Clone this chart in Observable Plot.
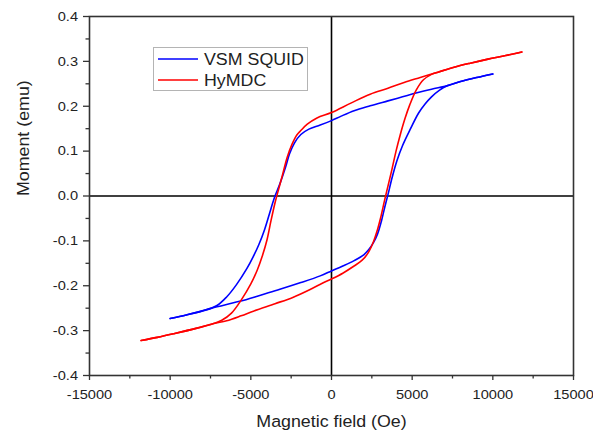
<!DOCTYPE html>
<html>
<head>
<meta charset="utf-8">
<script src="https://cdn.jsdelivr.net/npm/d3@7"></script>
<script src="https://cdn.jsdelivr.net/npm/@observablehq/plot@0.6"></script>
<style>
  html, body { margin: 0; padding: 0; background: #fff; }
  #wrap { position: relative; width: 593px; height: 436px; font-family: "Liberation Sans", Arial, sans-serif; }
  #legend { position: absolute; left: 153px; top: 47px; width: 153px; height: 42px; border: 1px solid #b4b4b4; background: #fff; }
</style>
</head>
<body>
<div id="wrap"><div id="chart"></div><div id="legend"></div></div>
<script>
// ---- data ----
const seriesNames = ["VSM SQUID", "HyMDC"];

// VSM SQUID, field sweeping down (+10000 -> -10000)
const vsmDown = [
  [10000,0.272],[9000,0.264],[8000,0.255],[7200,0.246],[6200,0.238],[5300,0.230],[4400,0.221],
  [3500,0.212],[2400,0.201],[1400,0.190],[600,0.178],[0,0.168],[-700,0.158],[-1400,0.149],
  [-1900,0.137],[-2300,0.118],[-2600,0.094],[-2850,0.064],[-3200,0.027],[-3550,-0.005],
  [-3850,-0.040],[-4150,-0.075],[-4500,-0.108],[-4850,-0.135],[-5250,-0.162],[-5900,-0.198],
  [-6500,-0.225],[-7100,-0.244],[-8000,-0.256],[-9000,-0.265],[-10000,-0.273]
];
// VSM SQUID, field sweeping up (-10000 -> +10000)
const vsmUp = [
  [-10000,-0.273],[-9000,-0.265],[-8000,-0.256],[-7100,-0.247],[-6200,-0.239],[-5300,-0.231],
  [-4400,-0.221],[-3200,-0.208],[-1900,-0.193],[-700,-0.178],[0,-0.167],[700,-0.156],[1400,-0.144],
  [2000,-0.131],[2300,-0.120],[2600,-0.104],[2850,-0.085],[3100,-0.055],[3300,-0.025],[3500,0.003],
  [3750,0.040],[4050,0.078],[4400,0.112],[4900,0.150],[5400,0.185],[5800,0.205],[6200,0.221],
  [6700,0.236],[7200,0.246],[8000,0.255],[9000,0.264],[10000,0.272]
];
// HyMDC, field sweeping down (+11800 -> -11800)
const hyDown = [
  [11800,0.321],[10800,0.313],[9700,0.305],[8600,0.296],[7600,0.287],[6600,0.276],[5500,0.264],
  [4500,0.253],[3500,0.240],[2400,0.227],[1200,0.207],[0,0.186],[-900,0.174],[-1500,0.160],
  [-1900,0.146],[-2150,0.136],[-2450,0.115],[-2750,0.086],[-3050,0.045],[-3300,0.012],
  [-3500,-0.015],[-3750,-0.055],[-4000,-0.098],[-4300,-0.135],[-4600,-0.165],[-5000,-0.196],
  [-5600,-0.232],[-6200,-0.261],[-6800,-0.277],[-7300,-0.284],[-8400,-0.295],[-9800,-0.307],
  [-10800,-0.315],[-11800,-0.322]
];
// HyMDC, field sweeping up (-11800 -> +11800)
const hyUp = [
  [-11800,-0.322],[-10800,-0.315],[-9800,-0.307],[-8400,-0.295],[-7300,-0.284],[-6500,-0.278],
  [-5600,-0.267],[-4800,-0.256],[-3500,-0.240],[-2400,-0.226],[-1200,-0.206],[-600,-0.195],
  [0,-0.185],[700,-0.172],[1400,-0.156],[1900,-0.143],[2250,-0.128],[2600,-0.102],[2850,-0.075],
  [3050,-0.048],[3300,-0.008],[3500,0.022],[3750,0.060],[4000,0.100],[4250,0.135],[4550,0.172],
  [4850,0.203],[5250,0.236],[5700,0.259],[6200,0.271],[6600,0.276],[7600,0.287],[8600,0.296],
  [9700,0.305],[10800,0.313],[11800,0.321]
];

const xTicks = [-15000,-10000,-5000,0,5000,10000,15000];
const xMinorTicks = [-12500,-7500,-2500,2500,7500,12500];
const yTicks = [-0.4,-0.3,-0.2,-0.1,0.0,0.1,0.2,0.3,0.4];
const yMinorTicks = [-0.35,-0.25,-0.15,-0.05,0.05,0.15,0.25,0.35];

const xLabel = "Magnetic field (Oe)";
const yLabel = "Moment (emu)";

// ---- styles ----
const colors = ["#0000ff", "#ff0000"];
const axisColor = "#333";
const font = "'Liberation Sans', Arial, sans-serif";

const lineOpts = (c) => ({x: d => d[0], y: d => d[1], stroke: c, strokeWidth: 1.6, curve: "catmull-rom"});

const chart = Plot.plot({
  width: 593, height: 436,
  marginLeft: 89, marginRight: 20, marginTop: 16, marginBottom: 61,
  x: {domain: [-15000, 15000]},
  y: {domain: [-0.4, 0.4]},
  style: {fontFamily: font, fontSize: "13.5px", color: "#222", background: "#fff", overflow: "visible"},
  marks: [
    Plot.ruleX([0], {stroke: "#000", strokeWidth: 1.6}),
    Plot.ruleY([0], {stroke: "#000", strokeWidth: 1.6}),
    Plot.line(vsmDown, lineOpts(colors[0])),
    Plot.line(vsmUp, lineOpts(colors[0])),
    Plot.line(hyDown, lineOpts(colors[1])),
    Plot.line(hyUp, lineOpts(colors[1])),
    Plot.frame({stroke: axisColor, strokeWidth: 1.6}),
    Plot.axisX({ticks: xTicks, tickSize: 5, tickPadding: 8.5, tickFormat: d => String(d), label: null, stroke: axisColor, strokeWidth: 1.3}),
    Plot.axisX({ticks: xMinorTicks, tickSize: 3.5, tickFormat: () => "", label: null, stroke: axisColor, strokeWidth: 1.3}),
    Plot.axisY({ticks: yTicks, tickSize: 6, tickPadding: 5.5, tickFormat: d => d.toFixed(1), label: null, stroke: axisColor, strokeWidth: 1.3}),
    Plot.axisY({ticks: yMinorTicks, tickSize: 3.5, tickFormat: () => "", label: null, stroke: axisColor, strokeWidth: 1.3}),
    Plot.text([xLabel], {frameAnchor: "bottom", lineAnchor: "middle", dy: 46, fontSize: 16.5, fill: "#222"}),
    Plot.text([yLabel], {frameAnchor: "left", dx: -66, rotate: -90, fontSize: 16.5, fill: "#222"})
  ]
});
document.getElementById("chart").appendChild(chart);

// slight horizontal stretch of all texts (about their anchor), as in the reference
function stretch(root, k) {
  root.querySelectorAll("text").forEach(t => {
    let x = parseFloat(t.getAttribute("x"));
    const xs = t.getAttribute("x") || "";
    if (!isFinite(x) || /em/.test(xs)) x = 0;
    const tr = t.getAttribute("transform") || "";
    t.setAttribute("transform", `${tr} translate(${x},0) scale(${k},1) translate(${-x},0)`.trim());
  });
}
stretch(chart, 1.08);

// legend
const lg = d3.select("#legend").append("svg").attr("width", 153).attr("height", 42);
seriesNames.forEach((name, i) => {
  const yy = 11 + i * 21;
  lg.append("line").attr("x1", 4).attr("x2", 44).attr("y1", yy).attr("y2", yy)
    .attr("stroke", colors[i]).attr("stroke-width", 1.7);
  lg.append("text").attr("x", 50).attr("y", yy).attr("dy", "0.36em")
    .attr("font-family", font).attr("font-size", 16.5).attr("fill", "#222").text(name);
});
stretch(lg.node(), 1.08);
</script>
</body>
</html>
